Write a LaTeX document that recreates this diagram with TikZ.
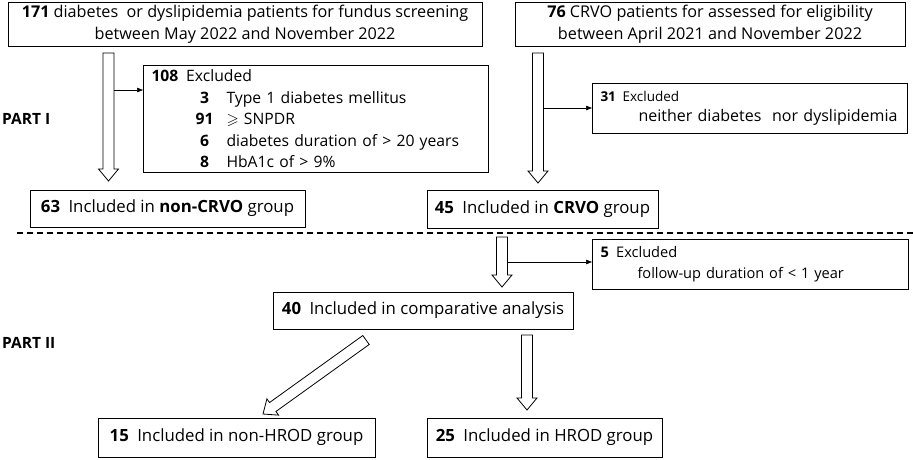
\documentclass[tikz,border=0pt]{standalone}
\usepackage{fontspec}
\setmainfont{Open Sans}
\usepackage{amssymb}
\usetikzlibrary{arrows.meta,calc}
\tikzset{
  box/.style={draw, line width=1pt, inner sep=0pt, align=center,
    font=\fontsize{16.8}{22}\selectfont},
  exclbox/.style={draw, line width=1pt, inner ysep=0pt, inner xsep=8pt, align=left},
  thinarrow/.style={-{Triangle[length=6pt,width=4.5pt]}, line width=0.6pt},
  fatarrow/.style={draw, line width=0.8pt, line join=miter, fill=white},
  divider/.style={line width=1.1pt, dash pattern=on 6pt off 4pt},
  partlabel/.style={anchor=west, inner sep=0pt, font=\fontsize{15.5}{20}\selectfont\bfseries}
}
\newcommand{\hollowarrow}[2]{%
  \coordinate (neck) at ($(#2)!12pt!(#1)$);
  \draw[fatarrow] ($(#1)!5.5pt!90:(#2)$) -- ($(neck)!5.5pt!-90:(#1)$)
    -- ($(neck)!10pt!-90:(#1)$) -- (#2) -- ($(neck)!10pt!90:(#1)$)
    -- ($(neck)!5.5pt!90:(#1)$) -- ($(#1)!5.5pt!-90:(#2)$) -- cycle;}
\begin{document}
\begin{tikzpicture}[x=1pt,y=-1pt]
\useasboundingbox (0,0) rectangle (913,459);
\node[box, minimum width=474, minimum height=44, font=\fontsize{16.2}{22}\selectfont] (screen) at (245,24.5)
  {\textbf{171} diabetes~ or dyslipidemia patients for fundus screening\\between May 2022 and November 2022};
\node[box, minimum width=390, minimum height=44, font=\fontsize{16.2}{22}\selectfont] (crvo) at (710,24)
  {\textbf{76} CRVO patients for assessed for eligibility\\between April 2021 and November 2022};
\node[exclbox, anchor=north west, text width=329, minimum height=107, font=\fontsize{15.7}{21.5}\selectfont] (excl1) at (143,65)
  {\textbf{108}\enspace Excluded\\
   \hspace*{38pt}\makebox[30pt]{\textbf{3}}\hspace{7pt}Type 1 diabetes mellitus\\
   \hspace*{38pt}\makebox[30pt]{\textbf{91}}\hspace{7pt}$\geqslant$ SNPDR\\
   \hspace*{38pt}\makebox[30pt]{\textbf{6}}\hspace{7pt}diabetes duration of > 20 years\\
   \hspace*{38pt}\makebox[30pt]{\textbf{8}}\hspace{7pt}HbA1c of > 9\%};
\node[exclbox, anchor=north west, text width=299, minimum height=50, font=\fontsize{16}{20.5}\selectfont] (excl2) at (592,83)
  {{\fontsize{13.5}{20.5}\selectfont\textbf{31}\enspace Excluded}\\
   \hspace*{38pt}neither diabetes~ nor dyslipidemia};
\node[partlabel] (part1) at (2,119) {PART I};
\node[box, minimum width=275, minimum height=37] (noncrvo) at (167.5,208.5)
  {\textbf{63}\enspace Included in \textbf{non-CRVO} group};
\node[box, minimum width=231, minimum height=38] (incrvo) at (542.5,209)
  {\textbf{45}\enspace Included in \textbf{CRVO} group};
\coordinate (d1) at (17,233);
\coordinate (d2) at (913,233);
\draw[divider] (d1) -- (d2);
\node[exclbox, anchor=north west, text width=300, minimum height=50, font=\fontsize{14.6}{21}\selectfont] (excl3) at (592,239)
  {\textbf{5}\enspace Excluded\\
   \hspace*{37pt}follow-up duration of < 1 year};
\node[box, minimum width=300, minimum height=37] (compare) at (423,310.5)
  {\textbf{40}\enspace Included in comparative analysis};
\node[partlabel] (part2) at (2,343) {PART II};
\node[box, minimum width=277, minimum height=39] (nonhrod) at (236.5,437.5)
  {\textbf{15}\enspace Included in non-HROD group};
\node[box, minimum width=235, minimum height=39] (hrod) at (544.5,437.5)
  {\textbf{25}\enspace Included in HROD group};
\coordinate (h1s) at (108.5,53);
\coordinate (h1e) at (108.5,181);
\coordinate (h2s) at (538,53);
\coordinate (h2e) at (538,183);
\coordinate (h3s) at (502,237);
\coordinate (h3e) at (502,287);
\coordinate (h4s) at (366,340);
\coordinate (h4e) at (263,414);
\coordinate (h5s) at (527,335);
\coordinate (h5e) at (527,410);
\hollowarrow{h1s}{h1e}
\hollowarrow{h2s}{h2e}
\hollowarrow{h3s}{h3e}
\hollowarrow{h4s}{h4e}
\hollowarrow{h5s}{h5e}
\coordinate (t1) at (114,90);
\coordinate (t2) at (543,108);
\coordinate (t3) at (507,262);
\draw[thinarrow] (t1) -- (t1 -| excl1.west);
\draw[thinarrow] (t2) -- (t2 -| excl2.west);
\draw[thinarrow] (t3) -- (t3 -| excl3.west);
\end{tikzpicture}
\end{document}
